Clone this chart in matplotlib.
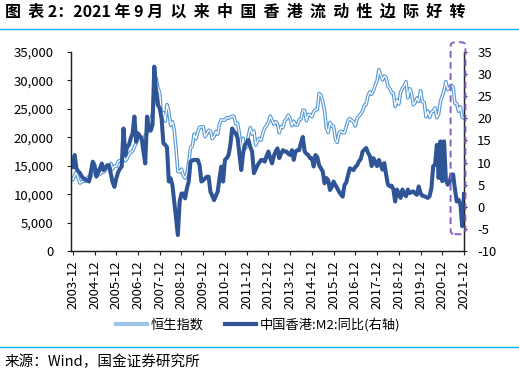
import numpy as np
import matplotlib
matplotlib.use('Agg')
import matplotlib.pyplot as plt
from matplotlib.lines import Line2D
from matplotlib.patches import FancyBboxPatch
from matplotlib.transforms import IdentityTransform
from matplotlib.ticker import FuncFormatter

plt.rcParams['font.family'] = ['Noto Sans CJK SC', 'DejaVu Sans']
plt.rcParams['axes.unicode_minus'] = False

# monthly data, 2003-12 .. 2021-12
hsi = [12576,
       13289, 13908, 12682, 11942, 12198, 12286, 12238, 12850, 13120, 13055, 14060, 14230,
       13722, 14195, 13516, 13908, 13867, 14201, 14880, 14903, 15428, 14386, 14937, 14876,
       15753, 15918, 15805, 16661, 15857, 16267, 16971, 17392, 17543, 18324, 18960, 19965,
       20106, 19651, 19800, 20318, 20635, 21773, 23185, 23984, 27142, 30500, 28643, 27813,
       23456, 24332, 22849, 25755, 24533, 22102, 22731, 21261, 18016, 13969, 13888, 14387,
       13278, 12812, 13576, 15521, 18171, 18379, 20573, 19724, 20955, 21753, 21822, 21873,
       20122, 20608, 21239, 21108, 19765, 20129, 21029, 20537, 22358, 23096, 23007, 23035,
       23447, 23338, 23528, 23720, 23684, 22398, 22440, 20534, 17592, 19864, 17989, 18434,
       20390, 21680, 20556, 21094, 18630, 19441, 19796, 19482, 20840, 21642, 22030, 22657,
       23730, 23020, 22300, 22737, 22392, 20803, 21883, 21731, 22859, 23206, 23881, 23306,
       22035, 22837, 22151, 22134, 23082, 23191, 24757, 24742, 22933, 23998, 23987, 23605,
       24507, 24823, 24901, 27700, 27424, 26250, 24636, 21671, 20846, 22640, 21996, 21914,
       19683, 19112, 20777, 21067, 20815, 20794, 21891, 22977, 23297, 22935, 22790, 22001,
       23361, 23741, 24112, 24615, 25661, 25765, 27324, 27970, 27554, 28246, 29177, 29919,
       31900, 30845, 30093, 30808, 30469, 28955, 28583, 27889, 27789, 25400, 26507, 25846,
       27942, 28633, 29051, 29800, 26901, 28543, 27778, 25725, 26092, 26907, 26346, 28190,
       26313, 26130, 23603, 24644, 23500, 24427, 24595, 25177, 23459, 24107, 26341, 27231,
       28284, 29800, 28378, 28725, 29152, 28828, 25961, 25879, 24576, 25377, 23475, 23398]

m2_yoy = [9.0,
          11.7, 8.7, 8.0, 7.6, 6.8, 6.4, 6.1, 6.0, 5.7, 8.0, 10.2, 9.4,
          6.8, 7.8, 8.7, 9.8, 8.3, 8.8, 9.4, 9.4, 7.5, 5.5, 4.5, 6.4,
          7.8, 8.6, 9.1, 17.7, 11.7, 13.5, 14.0, 15.5, 16.6, 20.4, 14.7, 16.6,
          16.0, 15.5, 12.5, 9.8, 20.4, 17.4, 17.2, 18.5, 31.7, 26.0, 23.0, 22.3,
          20.0, 14.4, 14.0, 13.5, 5.7, 6.4, 4.9, 1.2, -2.5, -6.4, 1.2, 3.0,
          3.0, 1.9, 4.2, 5.7, 10.2, 10.5, 10.6, 10.6, 10.6, 9.4, 5.7, 6.0,
          6.4, 6.8, 6.8, 3.4, 2.5, 1.5, 2.5, 3.4, 6.5, 9.1, 5.7, 10.6,
          11.0, 11.7, 14.0, 17.7, 17.0, 16.6, 15.5, 12.0, 8.3, 12.0, 14.0, 14.5,
          15.1, 13.5, 12.5, 7.6, 8.5, 9.4, 10.0, 10.6, 10.6, 10.2, 11.5, 12.5,
          11.0, 9.8, 11.5, 12.5, 13.2, 11.0, 12.0, 12.8, 12.5, 12.5, 12.0, 11.7,
          12.8, 10.6, 12.5, 12.8, 12.8, 14.5, 15.8, 12.5, 12.0, 11.7, 11.0, 11.0,
          9.1, 11.7, 11.2, 9.4, 8.7, 8.0, 5.3, 6.5, 6.0, 3.8, 4.5, 5.7,
          4.9, 4.2, 3.4, 2.8, 2.3, 4.9, 5.5, 7.2, 8.7, 8.5, 8.3, 9.0,
          9.4, 10.3, 10.8, 12.5, 12.9, 13.3, 12.2, 11.5, 9.2, 11.0, 10.0, 9.2,
          10.6, 9.5, 8.4, 9.9, 7.3, 5.0, 4.6, 4.8, 3.9, 1.2, 3.9, 3.0,
          2.0, 3.9, 2.8, 2.4, 3.9, 3.1, 3.3, 3.5, 3.0, 2.7, 4.6, 3.1,
          2.5, 2.4, 2.2, 2.0, 2.4, 4.2, 9.2, 9.5, 14.0, 6.5, 14.8, 5.8,
          14.8, 6.1, 5.0, 5.5, 7.3, 7.3, 4.0, 1.2, 1.6, 0.5, -4.4, 2.9]

year_labels = ['2003-12', '2004-12', '2005-12', '2006-12', '2007-12', '2008-12',
               '2009-12', '2010-12', '2011-12', '2012-12', '2013-12', '2014-12',
               '2015-12', '2016-12', '2017-12', '2018-12', '2019-12', '2020-12',
               '2021-12']

# highlighted window (month index, right-axis units)
box_x = (208.6, 216.8)
box_y = (-6.2, 37.2)

C_HSI = '#5b9bd5'
C_M2 = '#2f5597'
C_RULE = '#00b0f0'
C_BOX = '#8560c4'


def main():
    fig = plt.figure(figsize=(5.19, 3.79), dpi=100)
    ax = fig.add_axes([71/519, 1-251/379, 393/519, 199/379])
    ax2 = ax.twinx()

    x = np.arange(len(hsi))
    # double-line look for the index
    ax.plot(x, hsi, color=C_HSI, lw=2.6, solid_joinstyle='round')
    ax.plot(x, hsi, color='white', lw=0.9, solid_joinstyle='round')
    ax2.plot(x, m2_yoy, color=C_M2, lw=2.9, solid_joinstyle='round')

    ax.set_xlim(-1, len(hsi) - 1)
    ax.set_ylim(0, 35000)
    ax.set_yticks(np.arange(0, 35001, 5000))
    ax.yaxis.set_major_formatter(FuncFormatter(lambda v, p: f'{int(v):,}'))
    ax2.set_ylim(-10, 35)
    ax2.set_yticks(np.arange(-10, 36, 5))

    ax.set_xticks(np.arange(0, len(hsi), 12))
    ax.set_xticklabels(year_labels, rotation=90)

    for a in (ax, ax2):
        a.spines['top'].set_visible(False)
        for s in ('left', 'right', 'bottom'):
            a.spines[s].set_color('#222222')
            a.spines[s].set_linewidth(0.9)
    ax.tick_params(axis='y', direction='out', length=3.2, width=0.8, pad=9.5,
                   labelsize=9.5, colors='#222222', labelcolor='black')
    ax.tick_params(axis='x', direction='out', length=3, width=0.8, pad=3.5,
                   labelsize=9.5, colors='#222222', labelcolor='black')
    ax2.tick_params(axis='y', direction='out', length=2.5, width=0.8, pad=7,
                    labelsize=9.5, colors='#222222', labelcolor='black')

    # dashed highlight box, rounded corners in pixel space
    fig.canvas.draw()
    (x0, y0) = ax2.transData.transform((box_x[0], box_y[0]))
    (x1, y1) = ax2.transData.transform((box_x[1], box_y[1]))
    box = FancyBboxPatch((x0, y0), x1 - x0, y1 - y0,
                         boxstyle='round,pad=0,rounding_size=4',
                         transform=IdentityTransform(), fill=False,
                         edgecolor=C_BOX, lw=1.4, linestyle=(0, (3.5, 2.2)))
    fig.patches.append(box)

    handles = [Line2D([], [], color='#9dc3e6', lw=3),
               Line2D([], [], color=C_M2, lw=3)]
    fig.legend(handles, ['恒生指数', '中国香港:M2:同比(右轴)'], loc='center',
               bbox_to_anchor=(258/519, 1-325/379), ncol=2, frameon=False,
               fontsize=9.5, handlelength=2.4, handletextpad=0.25,
               columnspacing=1.6)

    # title is letter-spaced in the original
    title = '图  表 2：2021 年 9 月  ' + '  '.join('以来中国香港流动性边际好转')
    fig.text(5/519, 1-12/379, title,
             fontsize=11.5, fontweight='heavy', va='center', ha='left')
    fig.add_artist(Line2D([0, 1], [1-28.5/379, 1-28.5/379], color=C_RULE, lw=1))
    fig.add_artist(Line2D([0, 1], [1-346.5/379, 1-346.5/379], color=C_RULE, lw=1))
    fig.text(5/519, 1-362/379, '来源：Wind，国金证券研究所', fontsize=10.5,
             va='center', ha='left')

    fig.savefig('out.png', dpi=100)


if __name__ == '__main__':
    main()
